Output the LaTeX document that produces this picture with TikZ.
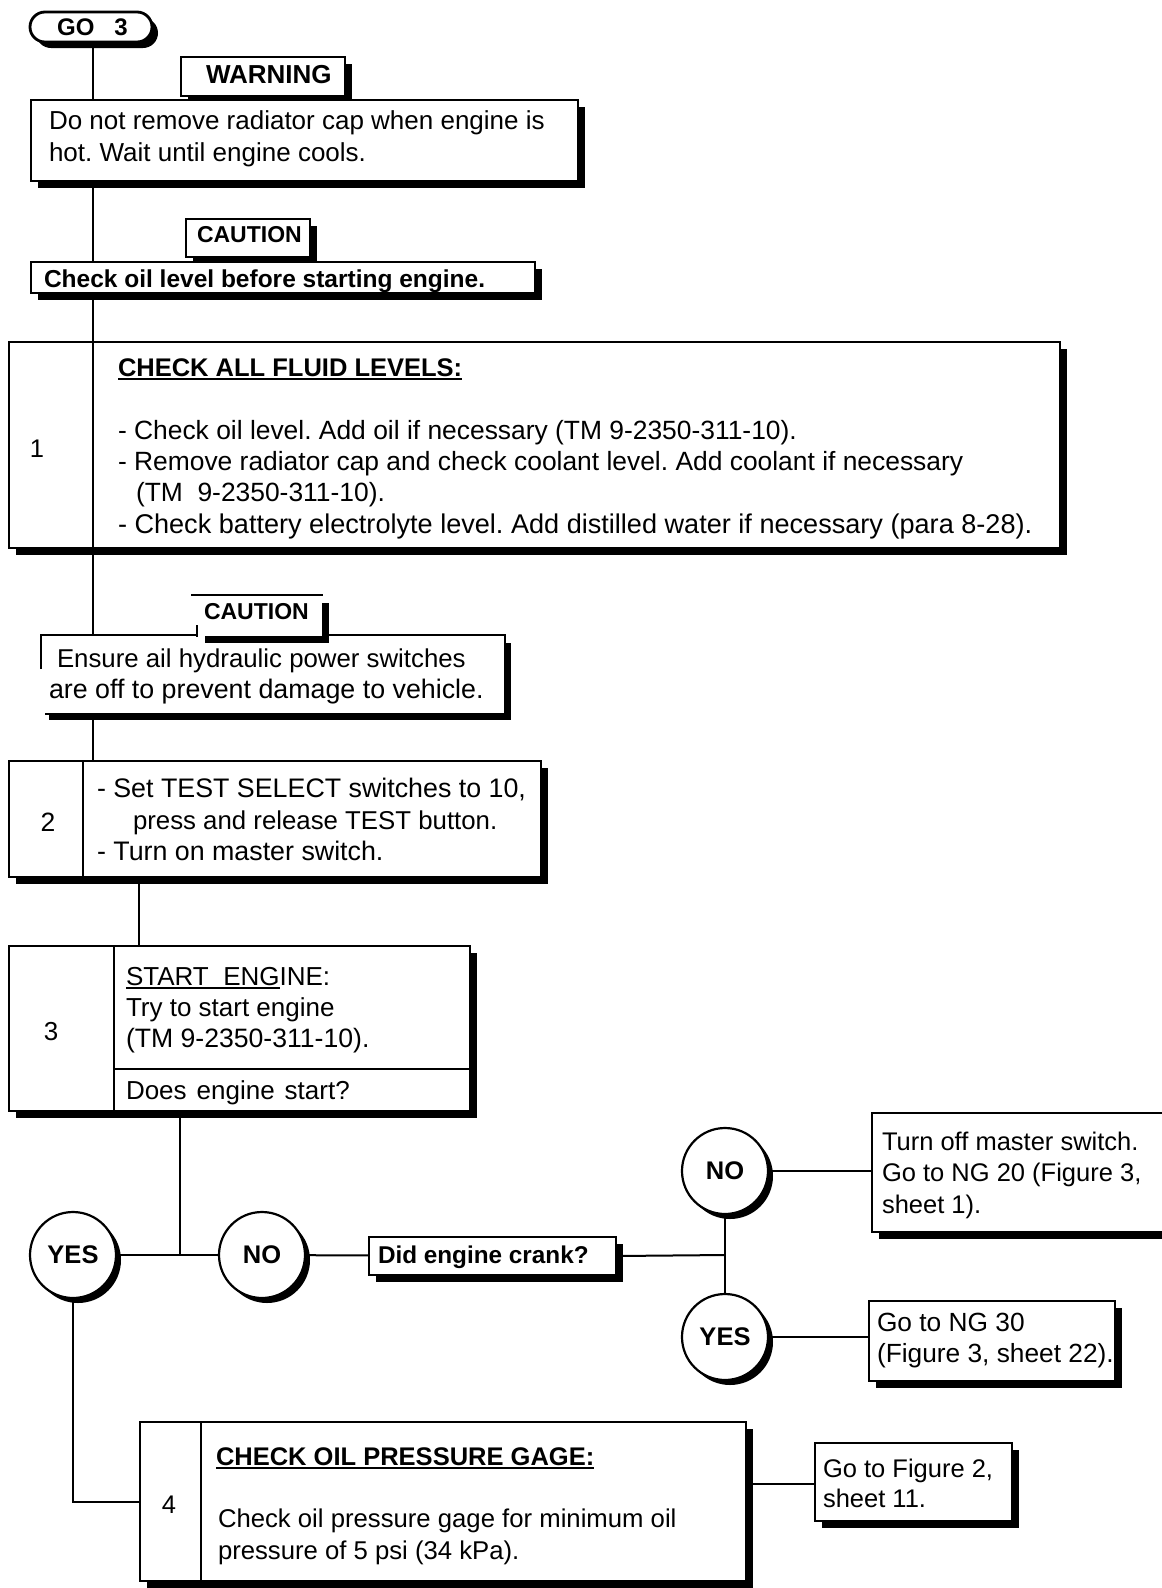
\documentclass[tikz,border=0pt]{standalone}
\usepackage{fontspec}
\setmainfont{Liberation Sans}
\usetikzlibrary{shadows,shapes.misc}
\frenchspacing
\newcommand\fsz[1]{\fontsize{#1}{31}\selectfont}
\newcommand\fs{\fontsize{25.5}{31}\selectfont}
\newcommand\bfs{\fontsize{25.5}{31}\selectfont\bfseries}
\newcommand\cfs{\fontsize{23}{28}\selectfont\bfseries}
\newcommand\ulx[1]{\setbox0\hbox{#1}\rlap{\rule[-4pt]{\wd0}{1.8pt}}#1}
\newcommand\bx[6][]{\node[box,#1,minimum width={#5-#3},minimum height={#6-#4}] (#2) at (#3,#4) {};}
\begin{document}
\frenchspacing
\begin{tikzpicture}[x=1pt,y=-1pt,line width=2pt,
  shad/.style={drop shadow={shadow xshift=7pt,shadow yshift=-7pt,opacity=1,fill=black}},
  box/.style={draw,fill=white,shad,anchor=north west,inner sep=0pt,line width=2pt},
  circ/.style={circle,draw,fill=white,drop shadow={shadow xshift=5pt,shadow yshift=-5pt,opacity=1,fill=black},minimum size=86pt,inner sep=0pt,font=\bfs,line width=2.2pt},
  txt/.style={anchor=base west,inner sep=0pt,font=\fs},
  btxt/.style={anchor=base west,inner sep=0pt,font=\bfs},
  ctxt/.style={anchor=base west,inner sep=0pt,font=\cfs},
  num/.style={anchor=base,inner sep=0pt,font=\fs},
  conn/.style={line width=2pt}]
\useasboundingbox (0,0) rectangle (1162,1588);
\coordinate (tk) at (93,0);
\coordinate (d1) at (93,0);
\coordinate (d2) at (83,0);
\coordinate (c23) at (139,0);
\coordinate (d3) at (114,0);
\coordinate (s3m) at (114,1069);
\coordinate (jx) at (180,1255);
\coordinate (j2) at (725,1255);
\coordinate (yb) at (73,1502);
\coordinate (d4) at (201,0);
\coordinate (f2y) at (0,1484);

% GO 3
\node[draw,fill=white,rounded rectangle,line width=2.8pt,
  drop shadow={shadow xshift=6pt,shadow yshift=-6pt,opacity=1,fill=black},
  minimum width=122pt,minimum height=30pt,inner sep=0pt,
  font=\fontsize{24}{28}\selectfont\bfseries] (go) at (91,27) {\hspace{3pt}GO\hspace{20pt}3};

% WARNING
\bx{wtab}{180}{56}{344}{95}
\node[btxt,font=\fontsize{26}{31}\selectfont\bfseries] (wtabt) at (205,83) {WARNING};
\bx{wbox}{30}{99}{577}{180}
\node[txt,font=\fsz{26}] (w1) at (48,129) {Do not remove radiator cap when engine is};
\node[txt,font=\fsz{26}] (w2) at (48,161) {hot. Wait until engine cools.};

% CAUTION 1
\bx{ctab1}{185}{218}{309}{256}
\node[ctxt] (ct1) at (196,242) {CAUTION};
\bx{cbox1}{30}{261}{534}{292}
\node[btxt,font=\fontsize{24.5}{31}\selectfont\bfseries] (cb1) at (43,287) {Check oil level before starting engine.};

% STEP 1
\bx{s1}{8}{341}{1059}{547}
\node[num] (n1) at (37,457) {1};
\node[btxt] (s1h) at (117,376) {\ulx{CHECK ALL FLUID LEVELS:}};
\node[txt,font=\fsz{26.4}] (s1a) at (117,439) {- Check oil level. Add oil if necessary (TM 9-2350-311-10).};
\node[txt,font=\fsz{26.4}] (s1b) at (117,470) {- Remove radiator cap and check coolant level. Add coolant if necessary};
\node[txt,font=\fsz{26.4}] (s1c) at (135,501) {(TM\ \ 9-2350-311-10).};
\node[txt,font=\fsz{27.1}] (s1d) at (117,533) {- Check battery electrolyte level. Add distilled water if necessary (para 8-28).};

% CAUTION 2
\node[fill=white,shad,anchor=north west,inner sep=0pt,minimum width=462pt,minimum height=77pt] (cbox2) at (41,635) {};
\draw[line width=2pt] ([yshift=-34pt]cbox2.north west) -- (cbox2.north west) -- (cbox2.north east) -- (cbox2.south east) -- ([xshift=4pt]cbox2.south west);
\node[fill=white,shad,anchor=north west,inner sep=0pt,minimum width=124pt,minimum height=40pt] (ctab2) at (197,595) {};
\draw[line width=2.5pt] ([xshift=-6pt]ctab2.north west) -- (ctab2.north east);
\draw[line width=2pt] ([yshift=12pt]ctab2.south west) -- (ctab2.south west);
\draw[line width=2pt] ([yshift=12pt]ctab2.south east) -- (ctab2.south east);
\node[ctxt] (ct2) at (203,619) {CAUTION};
\node[txt,font=\fsz{25.8}] (c2a) at (56,667) {Ensure ail hydraulic power switches};
\node[txt,font=\fsz{26.8}] (c2b) at (48,698) {are off to prevent damage to vehicle.};

% STEP 2
\bx{s2}{8}{760}{540}{876}
\node[num,font=\fsz{26.5}] (n2) at (48,831) {2};
\node[txt,font=\fsz{26.8}] (s2a) at (96,797) {- Set TEST SELECT switches to 10,};
\node[txt,font=\fsz{25.8}] (s2b) at (132,829) {press and release TEST button.};
\node[txt,font=\fsz{26.8}] (s2c) at (96,860) {- Turn on master switch.};

% STEP 3
\bx{s3}{8}{945}{469}{1110}
\node[num,font=\fsz{26}] (n3) at (51,1040) {3};
\node[txt,font=\fsz{26}] (s3h) at (125,985) {\ulx{START\ \ ENG}INE:};
\node[txt,font=\fsz{26}] (s3a) at (125,1016) {Try to start engine};
\node[txt,font=\fsz{26.6}] (s3b) at (125,1047) {(TM 9-2350-311-10).};
\node[txt,font=\fsz{26}] (s3q) at (125,1099) {Does\hspace{10pt}engine\hspace{10pt}start?};

% decision row
\node[circ] (yes1) at (73,1255) {YES};
\node[circ] (no1) at (262,1255) {NO};
\bx{crank}{368}{1236}{615}{1274}
\node[btxt,font=\fontsize{24.3}{31}\selectfont\bfseries] (crt) at (377,1263) {Did engine crank?};
\node[circ] (no2) at (725,1171) {NO};
\node[circ] (yes2) at (725,1337) {YES};
\bx{ng20}{871}{1112}{1185}{1231}
\node[txt] (g1) at (881,1150) {Turn off master switch.};
\node[txt] (g2) at (881,1181) {Go to NG 20 (Figure 3,};
\node[txt] (g3) at (881,1213) {sheet 1).};
\bx{ng30}{868}{1300}{1114}{1380}
\node[txt,font=\fsz{26.3}] (h1) at (876,1331) {Go to NG 30};
\node[txt,font=\fsz{26.3}] (h2) at (876,1362) {(Figure 3, sheet 22).};

% STEP 4
\bx{s4}{139}{1421}{745}{1580}
\node[num] (n4) at (169,1513) {4};
\node[btxt] (s4h) at (215,1465) {\ulx{CHECK OIL PRESSURE GAGE:}};
\node[txt,font=\fsz{25.7}] (s4a) at (217,1527) {Check oil pressure gage for minimum oil};
\node[txt,font=\fsz{25.7}] (s4b) at (217,1559) {pressure of 5 psi (34 kPa).};
\bx{fig2}{814}{1442}{1011}{1520}
\node[txt] (f1) at (822,1477) {Go to Figure 2,};
\node[txt] (f2) at (822,1507) {sheet 11.};

% connectors
\draw[conn] (go.south -| tk) -- (wbox.north -| tk);
\draw[conn] (wbox.south -| tk) -- (cbox1.north -| tk);
\draw[conn] (cbox1.south -| tk) -- (s1.north -| tk);
\draw[conn] (s1.north -| d1) -- (s1.south -| d1);
\draw[conn] (s1.south -| tk) -- (cbox2.north -| tk);
\draw[conn] (cbox2.south -| tk) -- (s2.north -| tk);
\draw[conn] (s2.north -| d2) -- (s2.south -| d2);
\draw[conn] (s2.south -| c23) -- (s3.north -| c23);
\draw[conn] (s3.north -| d3) -- (s3.south -| d3);
\draw[conn] (s3m) -- (s3m -| s3.east);
\draw[conn] (s3.south -| jx) -- (jx);
\draw[conn] (yes1) -- (no1);
\draw[conn] (no1) -- (crank);
\draw[conn] (crank.east) -- (j2);
\draw[conn] (no2) -- (yes2);
\draw[conn] (no2.east) -- (no2.east -| ng20.west);
\draw[conn] (yes2.east) -- (yes2.east -| ng30.west);
\draw[conn] (yes1.south) -- (yb) -- (yb -| s4.west);
\draw[conn] (s4.north -| d4) -- (s4.south -| d4);
\draw[conn] (s4.east |- f2y) -- (fig2.west |- f2y);
\end{tikzpicture}
\end{document}
